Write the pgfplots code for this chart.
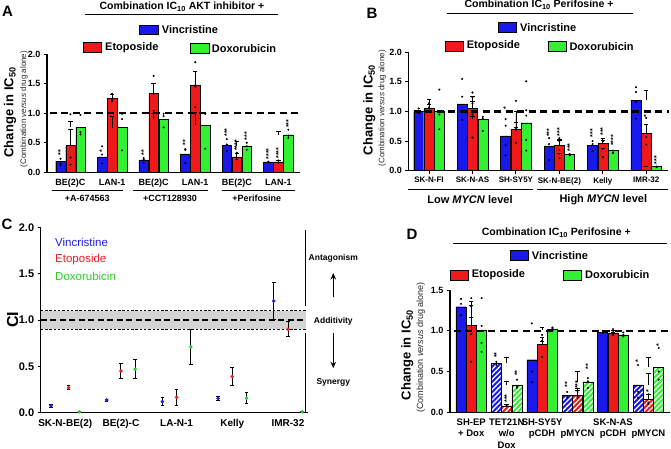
\documentclass[border=0pt]{standalone}
\usepackage{pgfplots}
\pgfplotsset{compat=1.18}
\usepackage{fontspec}
\setmainfont{Liberation Sans}
\usetikzlibrary{patterns.meta,arrows.meta}

\definecolor{vinc}{RGB}{25,25,235}
\definecolor{etop}{RGB}{240,25,25}
\definecolor{doxo}{RGB}{50,240,50}
\definecolor{cvinc}{RGB}{30,30,225}
\definecolor{cetop}{RGB}{235,30,30}
\definecolor{cdoxo}{RGB}{40,205,40}

\pgfplotsset{
  panel/.style={
    scale only axis, anchor=south west, clip=false,
    axis lines=left, axis line style={-, line width=1.1pt},
    ymin=0,
    tick align=outside, tick style={black, line width=0.9pt}, major tick length=3pt,
    /pgf/number format/assume math mode=true,
    yticklabel style={font=\bfseries\fontsize{9}{10}\selectfont,
      /pgf/number format/fixed, /pgf/number format/fixed zerofill,
      /pgf/number format/precision=1},
    xticklabel style={font=\bfseries\fontsize{9}{10}\selectfont},
  },
  bar/.style={ybar, draw=black, line width=0.4pt, fill=#1,
    error bars/y dir=plus, error bars/y explicit,
    error bars/error bar style={black, line width=0.7pt},
    error bars/error mark options={black, line width=0.7pt, mark size=2.2pt, rotate=90}},
  hatch/.style={ybar, draw=black, line width=0.4pt,
    pattern={Lines[angle=45,distance=3.6pt,line width=1.3pt]}, pattern color=white},
  dots/.style={only marks, mark=*, mark size=0.8pt, black},
}
\tikzset{
  star/.style={rotate=90, anchor=west, inner sep=0.5pt, font=\bfseries\fontsize{7}{7}\selectfont},
  refline/.style={black, line width=2.2pt, dash pattern=on 7pt off 4.5pt},
  lgd/.style={anchor=west, inner sep=0pt, font=\bfseries\fontsize{11}{12}\selectfont},
  ttl/.style={inner sep=0pt, font=\bfseries\fontsize{10.5}{12}\selectfont},
  letter/.style={inner sep=0pt, font=\bfseries\fontsize{15}{16}\selectfont},
  ylab/.style={rotate=90, inner sep=0pt, font=\bfseries\fontsize{13}{14}\selectfont},
  ysub/.style={rotate=90, inner sep=0pt, font=\fontsize{8}{9}\selectfont, black!85},
}

\begin{document}
\begin{tikzpicture}[x=1pt,y=1pt]
\path[use as bounding box] (0,0) rectangle (671,449);

% ---------------- Panel A ----------------
\node[letter] at (7.5,438) {A};
\node[ttl] at (182,442) {Combination IC\textsubscript{10} AKT inhibitor +};
\draw[line width=0.8pt] (85,435) -- (278,435);
\draw[fill=vinc, line width=0.6pt] (139.3,414.7) rectangle (158.3,424);
\node[lgd] at (161.7,419.5) {Vincristine};
\draw[fill=etop, line width=0.6pt] (83.3,396.3) rectangle (101.7,406.3);
\node[lgd] at (105,401.3) {Etoposide};
\draw[fill=doxo, line width=0.6pt] (190,395.7) rectangle (209.3,405.7);
\node[lgd] at (211.7,400.7) {Doxorubicin};
\node[ylab] at (10,336.6) {Change in IC\textsubscript{50}};
\node[ysub] at (24,340) {(Combination \textit{versus} drug alone)};

\begin{axis}[panel, at={(47pt,276.7pt)}, width=253pt, height=118.3pt,
  xmin=-0.565, xmax=5.52, ymax=2.0, ytick={0,0.5,1,1.5,2},
  xtick={0,...,5}, x tick style={draw=none},
  xticklabels={BE(2)C, LAN-1, BE(2)C, LAN-1, BE(2)C, LAN-1}]
\addplot[bar=vinc, bar width=9.5pt, bar shift=-10pt] coordinates {
  (0,0.19) +- (0,0.07) (1,0.26) +- (0,0.05) (2,0.21) +- (0,0.06)
  (3,0.31) +- (0,0.11) (4,0.45) +- (0,0.08) (5,0.175) +- (0,0.02)};
\addplot[bar=etop, bar width=9.5pt, bar shift=0pt] coordinates {
  (0,0.45) +- (0,0.27) (1,1.25) +- (0,0.06) (2,1.335) +- (0,0.17)
  (3,1.48) +- (0,0.23) (4,0.26) +- (0,0.06) (5,0.175) +- (0,0.03)};
\addplot[bar=doxo, bar width=9.5pt, bar shift=10pt] coordinates {
  (0,0.765) +- (0,0.09) (1,0.755) +- (0,0.19) (2,0.90) +- (0,0.09)
  (3,0.795) +- (0,0.21) (4,0.44) +- (0,0.08) (5,0.635) +- (0,0.05)};
\addplot[dots] coordinates {
  (-0.24,0.23) (-0.24,0.15) (-0.24,0.12) (0.76,0.44) (0.76,0.30) (0.76,0.15)
  (1.76,0.16) (1.76,0.24) (1.76,0.22) (2.76,0.39) (2.76,0.16) (2.76,0.38)
  (3.76,0.56) (3.76,0.36) (3.76,0.47) (4.76,0.18) (4.76,0.17)
  (0,0.25) (0,0.13) (0,0.98) (1,1.33) (1,1.22) (1,1.2) (2,1.63) (2,1.04) (2,1.33)
  (3,1.86) (3,1.1) (3,1.45) (4,0.33) (4,0.22) (4,0.25) (5,0.2) (5,0.16)
  (0.24,0.97) (0.24,0.68) (0.24,0.64) (1.24,0.99) (1.24,0.37) (1.24,0.9)
  (2.24,0.99) (2.24,0.76) (2.24,0.95) (3.24,0.99) (3.24,0.40) (3.24,0.99)
  (4.24,0.5) (4.24,0.38) (4.24,0.44) (5.24,0.72) (5.24,0.58) (5.24,0.62)};
\draw[refline] (axis cs:-0.5,1) -- (axis cs:5.55,1);
\node[star] at (axis cs:-0.24,0.27) {**};
\node[star] at (axis cs:0.76,0.33) {*};
\node[star] at (axis cs:1.76,0.28) {**};
\node[star] at (axis cs:2.76,0.44) {**};
\node[star] at (axis cs:3.76,0.59) {***};
\node[star] at (axis cs:4,0.35) {****};
\node[star] at (axis cs:4.24,0.53) {***};
\node[star] at (axis cs:4.76,0.21) {****};
\node[star] at (axis cs:5,0.22) {****};
\node[star] at (axis cs:5.24,0.74) {***};
\end{axis}
\draw[line width=0.8pt] (51.7,258.3) -- (123.3,258.3);
\draw[line width=0.8pt] (133.3,258.3) -- (208.3,258.3);
\draw[line width=0.8pt] (221.7,258.3) -- (295,258.3);
\begin{scope}[every node/.style={inner sep=0pt, font=\bfseries\fontsize{9}{10}\selectfont}]
\node at (87.3,250.7) {+A-674563};
\node at (170,250.7) {+CCT128930};
\node at (256.7,250.7) {+Perifosine};
\end{scope}

% ---------------- Panel B ----------------
\node[letter] at (372,436) {B};
\node[ttl] at (539,444) {Combination IC\textsubscript{10} Perifosine +};
\draw[line width=0.8pt] (446.7,435.7) -- (633.3,435.7);
\draw[fill=vinc, line width=0.6pt] (498.3,416.3) rectangle (516.7,426.3);
\node[lgd] at (520,421.3) {Vincristine};
\draw[fill=etop, line width=0.6pt] (445,398) rectangle (463.3,408);
\node[lgd] at (466.7,403) {Etoposide};
\draw[fill=doxo, line width=0.6pt] (548.3,397.3) rectangle (566.7,407.3);
\node[lgd] at (569.3,402.3) {Doxorubicin};
\node[ylab] at (369.3,339) {Change in IC\textsubscript{50}};
\node[ysub] at (382.3,340.7) {(Combination \textit{versus} drug alone)};

\begin{axis}[panel, at={(408.3pt,278.3pt)}, width=260pt, height=118.4pt,
  xmin=-0.477, xmax=5.507, ymax=2.0, ytick={0,0.5,1,1.5,2},
  xtick={0,...,5}, major tick length=3pt,
  xticklabel style={font=\bfseries\fontsize{8}{9}\selectfont},
  xticklabels={SK-N-FI, SK-N-AS, SH-SY5Y, SK-N-BE(2), Kelly, IMR-32}]
\addplot[bar=vinc, bar width=10pt, bar shift=-10.3pt] coordinates {
  (0,1.0) +- (0,0.04) (1,1.13) +- (0,0.12) (2,0.59) +- (0,0.15)
  (3,0.42) +- (0,0.09) (4,0.43) +- (0,0.08) (5,1.19) +- (0,0.16)};
\addplot[bar=etop, bar width=10pt, bar shift=0pt] coordinates {
  (0,1.05) +- (0,0.07) (1,1.05) +- (0,0.12) (2,0.70) +- (0,0.11)
  (3,0.43) +- (0,0.1) (4,0.46) +- (0,0.08) (5,0.63) +- (0,0.15)};
\addplot[bar=doxo, bar width=10pt, bar shift=10.3pt] coordinates {
  (0,1.0) +- (0,0.2) (1,0.87) +- (0,0.04) (2,0.81) +- (0,0.19)
  (3,0.275) +- (0,0.01) (4,0.345) +- (0,0.04) (5,0.068) +- (0,0.01)};
\addplot[dots] coordinates {
  (-0.237,1.05) (-0.237,0.97) (-0.237,1.0) (0.763,1.55) (0.763,1.25) (0.763,0.86) (0.763,1.0)
  (1.763,0.87) (1.763,0.43) (1.763,0.26) (1.763,0.76) (2.763,0.55) (2.763,0.18) (2.763,0.45)
  (3.763,0.45) (3.763,0.5) (3.763,0.33) (4.763,1.41) (4.763,1.33) (4.763,0.88) (4.763,1.16)
  (0,1.14) (0,1.07) (0,1.02) (1,1.32) (1,1.24) (1,0.56) (1,1.14) (1,0.95)
  (2,1.18) (2,0.69) (2,0.47) (2,0.72) (3,0.55) (3,0.35) (3,0.21) (3,0.5)
  (4,0.5) (4,0.23) (4,0.5) (5,0.89) (5,0.44) (5,0.57)
  (0.237,1.37) (0.237,0.7) (0.237,0.95) (1.237,0.91) (1.237,0.67) (1.237,0.88)
  (2.237,1.51) (2.237,1.02) (2.237,0.52) (2.237,0.34) (2.237,0.93)
  (3.237,0.27) (3.237,0.28) (3.237,0.26) (4.237,0.3) (4.237,0.3) (4.237,0.34)
  (5.237,0.06) (5.237,0.07)};
\draw[refline] (axis cs:-0.35,1) -- (axis cs:5.53,1);
\node[star] at (axis cs:1.763,1.02) {*};
\node[star] at (axis cs:2.763,0.56) {***};
\node[star] at (axis cs:3,0.57) {***};
\node[star] at (axis cs:3.237,0.31) {***};
\node[star] at (axis cs:3.763,0.55) {***};
\node[star] at (axis cs:4,0.58) {***};
\node[star] at (axis cs:4.237,0.41) {****};
\node[star] at (axis cs:5,0.88) {*};
\node[star] at (axis cs:5.237,0.1) {***};
\end{axis}
\draw[line width=0.8pt] (408.3,259.7) -- (533.3,259.7);
\draw[line width=0.8pt] (536.7,259.7) -- (668.3,259.7);
\begin{scope}[every node/.style={inner sep=0pt, font=\bfseries\fontsize{11}{12}\selectfont}]
\node at (470,249) {Low \textit{MYCN} level};
\node at (603.3,249) {High \textit{MYCN} level};
\end{scope}

% ---------------- Panel C ----------------
\node[letter] at (7,225) {C};
\node[rotate=90, inner sep=0pt, font=\bfseries\fontsize{16}{17}\selectfont] at (12.7,129) {CI};
\begin{axis}[panel, at={(40.7pt,36.3pt)}, width=267.6pt, height=185.4pt,
  xmin=-0.44, xmax=4.365, ymax=2.0, ytick={0,0.5,1,1.5,2},
  yticklabel style={font=\bfseries\fontsize{11}{12}\selectfont},
  xtick={0,...,4}, x tick style={draw=none},
  xticklabel style={font=\bfseries\fontsize{10}{11}\selectfont},
  xticklabels={SK-N-BE(2), BE(2)-C, LA-N-1, Kelly, IMR-32}]
\fill[black!17] (axis cs:-0.44,0.9) rectangle (axis cs:4.32,1.1);
\draw[black, line width=0.9pt, dash pattern=on 2.5pt off 1.8pt] (axis cs:-0.44,0.9) -- (axis cs:4.32,0.9);
\draw[black, line width=0.9pt, dash pattern=on 2.5pt off 1.8pt] (axis cs:-0.44,1.1) -- (axis cs:4.32,1.1);
\draw[black, line width=1.8pt, dash pattern=on 6pt off 3.5pt] (axis cs:-0.44,1) -- (axis cs:4.32,1);
\draw[black, line width=0.8pt] (axis cs:4.32,1.97) -- (axis cs:4.32,1.155);
\draw[black, line width=0.8pt] (axis cs:4.32,0.865) -- (axis cs:4.32,0);
\pgfplotsset{cerr/.style={only marks, mark=*, mark size=1.6pt, color=#1,
  error bars/y dir=both, error bars/y explicit,
  error bars/error bar style={black, line width=0.8pt},
  error bars/error mark options={black, line width=0.8pt, mark size=1.8pt, rotate=90}}}
\addplot[cerr=cvinc] coordinates {
  (-0.255,0.075) +- (0,0.015) (0.745,0.137) +- (0,0.01) (1.745,0.12) +- (0,0.04)
  (2.745,0.155) +- (0,0.02) (3.745,1.205) +- (0,0.2)};
\addplot[cerr=cetop] coordinates {
  (0.06,0.27) +- (0,0.02) (1,0.45) +- (0,0.085) (2,0.165) +- (0,0.09)
  (3,0.39) +- (0,0.095) (4,0.9) +- (0,0.08)};
\addplot[cerr=cdoxo] coordinates {
  (0.255,0.01) +- (0,0.005) (1.255,0.47) +- (0,0.105) (2.255,0.71) +- (0,0.19)
  (3.255,0.155) +- (0,0.06) (4.255,0.01) +- (0,0.005)};
\end{axis}
\begin{scope}[every node/.style={anchor=west, inner sep=0pt, font=\fontsize{11.5}{12}\selectfont}]
\node[text=cvinc] at (55,206.3) {Vincristine};
\node[text=cetop] at (55,189.7) {Etoposide};
\node[text=cdoxo] at (55,173) {Doxorubicin};
\end{scope}
\begin{scope}[every node/.style={inner sep=0pt, font=\bfseries\fontsize{8.5}{10}\selectfont}]
\node at (333.3,190.7) {Antagonism};
\node at (333.3,128) {Additivity};
\node at (333.3,66.7) {Synergy};
\end{scope}
\draw[line width=1.4pt, -{Stealth[length=6.5pt,width=5.5pt]}] (333.3,151.7) -- (333.3,176);
\draw[line width=1.4pt, -{Stealth[length=6.5pt,width=5.5pt]}] (333.3,116.3) -- (333.3,80.7);

% ---------------- Panel D ----------------
\node[letter] at (412,215) {D};
\node[ttl] at (556.3,216.3) {Combination IC\textsubscript{10} Perifosine +};
\draw[line width=0.8pt] (453.3,205.7) -- (666.7,205.7);
\draw[fill=vinc, line width=0.6pt] (510,189) rectangle (528.3,198.3);
\node[lgd] at (531.7,193.7) {Vincristine};
\draw[fill=etop, line width=0.6pt] (450,169) rectangle (468.3,179);
\node[lgd] at (471.7,174) {Etoposide};
\draw[fill=doxo, line width=0.6pt] (563.3,169) rectangle (581.7,179);
\node[lgd] at (585,174) {Doxorubicin};
\node[ylab] at (407.3,94) {Change in IC\textsubscript{50}};
\node[ysub, font=\fontsize{9}{10}\selectfont] at (420.7,101.4) {(Combination \textit{versus} drug alone)};

\begin{axis}[panel, at={(450pt,36.7pt)}, width=220pt, height=122.3pt,
  xmin=-0.60, xmax=5.61, ymax=1.5, ytick={0,0.5,1,1.5},
  xtick={0,...,5}, x tick style={draw=none},
  xticklabel style={align=center, font=\bfseries\fontsize{9.5}{11.5}\selectfont},
  xticklabels={SH-EP\\+ Dox, TET21N\\w/o\\Dox, SH-SY5Y\\pCDH, \phantom{X}\\pMYCN, SK-N-AS\\pCDH, \phantom{X}\\pMYCN}]
\addplot[bar=vinc, bar width=10pt, bar shift=-10.3pt] coordinates {
  (0,1.295) +- (0,0.07) (1,0.60) +- (0,0.07) (2,0.645) +- (0,0.22)
  (3,0.21) +- (0,0.08) (4,0.98) +- (0,0.03) (5,0.335) +- (0,0.14)};
\addplot[bar=etop, bar width=10pt, bar shift=0pt] coordinates {
  (0,1.07) +- (0,0.24) (1,0.08) +- (0,0.015) (2,0.835) +- (0,0.09)
  (3,0.21) +- (0,0.06) (4,0.975) +- (0,0.03) (5,0.155) +- (0,0.065)};
\addplot[bar=doxo, bar width=10pt, bar shift=10.3pt] coordinates {
  (0,1.01) +- (0,0.16) (1,0.335) +- (0,0.05) (2,1.015) +- (0,0.03)
  (3,0.375) +- (0,0.13) (4,0.95) +- (0,0.03) (5,0.555) +- (0,0.12)};
\addplot[hatch, bar width=10pt, bar shift=-10.3pt] coordinates {(1,0.60) (3,0.21) (5,0.335)};
\addplot[hatch, bar width=10pt, bar shift=0pt] coordinates {(1,0.08) (3,0.21) (5,0.155)};
\addplot[hatch, bar width=10pt, bar shift=10.3pt] coordinates {(1,0.335) (3,0.375) (5,0.555)};
\addplot[dots] coordinates {
  (-0.291,1.39) (-0.291,1.33) (-0.291,1.19) (0.709,0.62) (0.709,0.58) (0.709,0.6)
  (1.709,1.09) (1.709,0.37) (1.709,0.5) (2.709,0.25) (2.709,0.2) (2.709,0.18)
  (3.709,1.0) (3.709,0.97) (3.709,0.98) (4.709,0.58) (4.709,0.25) (4.709,0.18)
  (0,1.4) (0,0.96) (0,0.62) (0,1.3) (1,0.08) (1,0.09) (2,0.95) (2,0.88) (2,0.68)
  (3,0.25) (3,0.2) (3,0.18) (4,1.02) (4,0.95) (4,0.98) (5,0.22) (5,0.12) (5,0.1)
  (0.291,1.4) (0.291,1.06) (0.291,0.74) (0.291,0.85) (1.291,0.4) (1.291,0.32) (1.291,0.3)
  (2.291,1.04) (2.291,1.0) (2.291,1.03) (3.291,0.42) (3.291,0.3) (3.291,0.38)
  (4.291,0.98) (4.291,0.93) (4.291,0.95) (5.291,0.79) (5.291,0.5) (5.291,0.4)};
\draw[refline] (axis cs:-0.5,1) -- (axis cs:5.6,1);
\node[star] at (axis cs:0.709,0.66) {**};
\node[star] at (axis cs:1,0.11) {***};
\node[star] at (axis cs:1.291,0.44) {**};
\node[star] at (axis cs:2.709,0.3) {**};
\node[star] at (axis cs:3,0.28) {***};
\node[star] at (axis cs:3.291,0.52) {**};
\node[star] at (axis cs:4.709,0.6) {*};
\node[star] at (axis cs:5,0.24) {*};
\node[star] at (axis cs:5.291,0.8) {*};
\end{axis}
\end{tikzpicture}
\end{document}
